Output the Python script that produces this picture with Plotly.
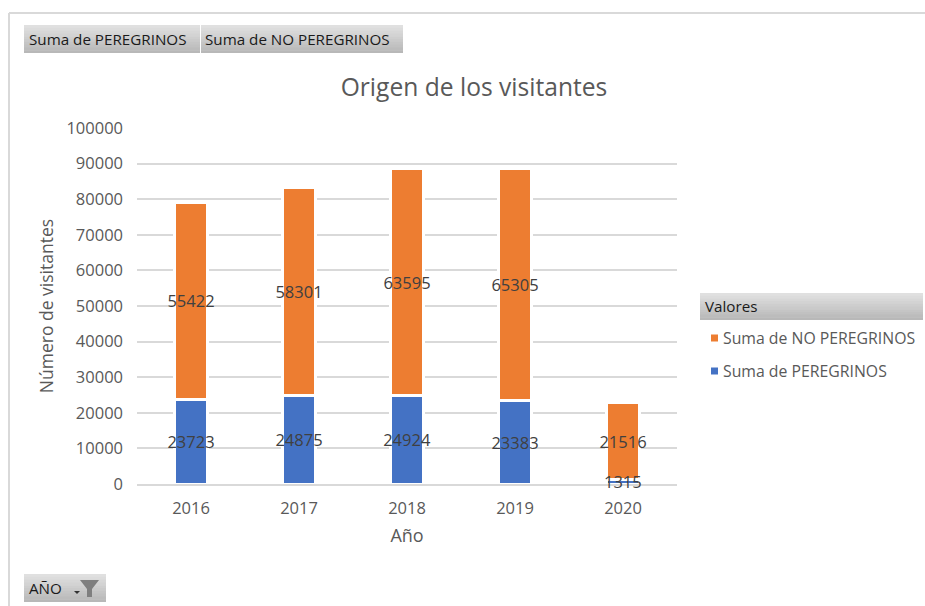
import plotly.graph_objects as go

years = ["2016", "2017", "2018", "2019", "2020"]
peregrinos = [23723, 24875, 24924, 23383, 1315]
no_peregrinos = [55422, 58301, 63595, 65305, 21516]
y_ticks = [0, 10000, 20000, 30000, 40000, 50000, 60000, 70000, 80000, 90000, 100000]
name_p = "Suma de PEREGRINOS"
name_np = "Suma de NO PEREGRINOS"
color_p = "#4472C4"
color_np = "#ED7D31"

W, H = 925, 606
L, R, T, B = 137, 677, 128, 484
FONT = "Open Sans"
GREY = "#595959"
LABEL_GREY = "#404040"


# page pixels -> paper coordinates of the plot area
def px(x):
    return (x - L) / (R - L)


def py(y):
    return (B - y) / (B - T)


def gray_button(x0, y0, x1, y1, top=224, bottom=184, steps=10):
    # shapes have no gradient, so stack thin strips
    out = []
    h = (y1 - y0) / steps
    for i in range(steps):
        c = round(top + (bottom - top) * i / (steps - 1))
        y_end = min(y0 + (i + 1) * h + 0.5, y1)
        out.append(dict(type="rect", xref="paper", yref="paper",
                        x0=px(x0), x1=px(x1), y0=py(y0 + i * h), y1=py(y_end),
                        fillcolor=f"rgb({c},{c},{c})", line_width=0, layer="below"))
    return out


def label(x, y, text, size=15.2, color="#1a1a1a", anchor="left"):
    return dict(xref="paper", yref="paper", x=px(x), y=py(y), text=text, showarrow=False,
                xanchor=anchor, yanchor="middle",
                font=dict(family=FONT, size=size, color=color))


# the small 2020 label would sit under the orange bar, so it goes in as an annotation
p_text = [str(v) if v > 5000 else "" for v in peregrinos]

fig = go.Figure()
fig.add_bar(x=years, y=peregrinos, name=name_p, marker_color=color_p, text=p_text)
fig.add_bar(x=years, y=no_peregrinos, name=name_np, marker_color=color_np, text=no_peregrinos)
fig.update_traces(marker_line_color="white", marker_line_width=3,
                  textposition="inside", insidetextanchor="middle", textangle=0,
                  constraintext="none", texttemplate="%{text}", cliponaxis=False,
                  insidetextfont=dict(family=FONT, size=16.5, color=LABEL_GREY))

shapes = []
# outer frame of the pivot chart
shapes.append(dict(type="line", xref="paper", yref="paper", x0=px(9), x1=px(925), y0=py(13), y1=py(13),
                   line=dict(color="#d9d9d9", width=2)))
shapes.append(dict(type="line", xref="paper", yref="paper", x0=px(9), x1=px(9), y0=py(13), y1=py(606),
                   line=dict(color="#d9d9d9", width=2)))
shapes += gray_button(24, 25, 200, 53)
shapes += gray_button(201, 25, 403, 53)
shapes += gray_button(24, 574, 106, 602)
shapes += gray_button(700, 293, 923, 320)
# filter icon on the AÑO button
shapes.append(dict(type="path", xref="paper", yref="paper",
                   path=f"M {px(80)} {py(580)} L {px(99)} {py(580)} L {px(92)} {py(589)} L {px(92)} {py(597)} "
                        f"L {px(87)} {py(597)} L {px(87)} {py(589)} Z",
                   fillcolor="#7f7f7f", line_width=0))
shapes.append(dict(type="path", xref="paper", yref="paper",
                   path=f"M {px(74)} {py(591)} L {px(80)} {py(591)} L {px(77)} {py(594)} Z",
                   fillcolor="#333333", line_width=0))

annotations = [
    label(26.5, 39, name_p),
    label(203, 39, name_np),
    label(26.5, 588, "AÑO"),
    label(703, 306, "Valores"),
]

# on a category axis an annotation takes the category's index, a "2020" string reads as 2020
for i, (v, t) in enumerate(zip(peregrinos, p_text)):
    if not t:
        annotations.append(dict(x=i, y=v / 2, xref="x", yref="y", text=str(v), showarrow=False,
                                yanchor="middle", font=dict(family=FONT, size=16.5, color=LABEL_GREY)))

# legend drawn by hand: plotly's own keeps a 30px key column, the original has tiny squares
for row_y, name, color in [(338, name_np, color_np), (371, name_p, color_p)]:
    shapes.append(dict(type="rect", xref="paper", yref="paper", x0=px(711), x1=px(718),
                       y0=py(row_y - 3.5), y1=py(row_y + 3.5), fillcolor=color, line_width=0))
    annotations.append(label(721, row_y, name, size=15.8, color=GREY))

fig.update_layout(
    width=W, height=H,
    margin=dict(l=L, r=W - R, t=T, b=H - B, pad=0, autoexpand=False),
    paper_bgcolor="white", plot_bgcolor="white",
    barmode="stack", bargap=0.69, showlegend=False,
    font=dict(family=FONT, color=GREY, size=16),
    title=dict(text="Origen de los visitantes", x=474 / W, xanchor="center", y=1 - 87.5 / H, yanchor="middle",
               font=dict(family=FONT, size=24.6, color=GREY)),
    xaxis=dict(type="category", title=dict(text="Año", font=dict(size=18, color=GREY), standoff=12),
               showgrid=False, showline=True, linecolor="#d9d9d9", linewidth=2, ticks="",
               ticklabelstandoff=8, tickfont=dict(size=16.5, color=GREY)),
    yaxis=dict(title=dict(text="Número de visitantes", font=dict(size=17.5, color=GREY), standoff=8),
               range=[0, 100020], tickvals=y_ticks, tickformat="d", gridcolor="#d9d9d9", gridwidth=2,
               zeroline=False, ticks="", ticklabelstandoff=13, tickfont=dict(size=16.5, color=GREY)),
    shapes=shapes, annotations=annotations,
)

# the page's default 8px body margin would shift everything
fig.write_html("out.html", config={"displayModeBar": False},
               post_script="document.body.style.margin='0';")
